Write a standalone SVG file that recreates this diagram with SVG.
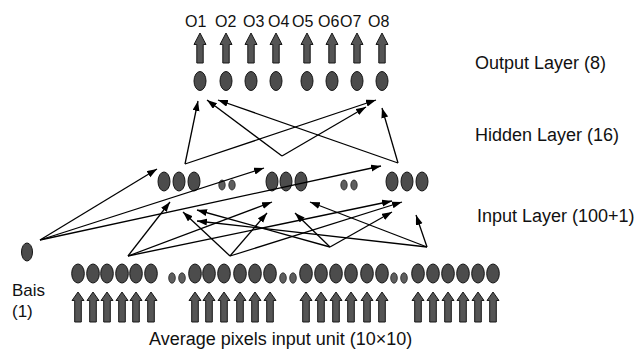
<svg xmlns="http://www.w3.org/2000/svg" width="636" height="349" viewBox="0 0 636 349">
<style>
.n{fill:#4c4c4c;stroke:#151515;stroke-width:1}
.d{fill:#5e5e5e;stroke:#222;stroke-width:0.8}
.ba{fill:#555;stroke:#181818;stroke-width:1}
.c{fill:none;stroke:#000;stroke-width:1.3;marker-end:url(#ah)}
text{font-family:"Liberation Sans",Arial,sans-serif;fill:#111}
.lbl{font-size:18px}
.b{font-size:17px}
.o{font-size:16px}
</style>
<defs>
<marker id="ah" markerUnits="userSpaceOnUse" markerWidth="11" markerHeight="8" refX="10" refY="3.5" orient="auto">
<path d="M0,0 L10,3.5 L0,7 Z" fill="#000"/>
</marker>
<path id="oa" d="M0,33 L6,44.5 L3.2,44.5 L3.2,63 L-3.2,63 L-3.2,44.5 L-6,44.5 Z"/>
<path id="ia" d="M0,292 L6,300.5 L3.3,300.5 L3.3,322 L-3.3,322 L-3.3,300.5 L-6,300.5 Z"/>
</defs>
<rect width="636" height="349" fill="#fff"/>

<g id="output-labels">
<text class="o" x="185" y="27">O1</text>
<text class="o" x="215" y="27">O2</text>
<text class="o" x="243" y="27">O3</text>
<text class="o" x="268" y="27">O4</text>
<text class="o" x="292" y="27">O5</text>
<text class="o" x="318" y="27">O6</text>
<text class="o" x="340" y="27">O7</text>
<text class="o" x="368" y="27">O8</text>
</g>

<g id="output-arrows" class="ba">
<use href="#oa" x="200"/><use href="#oa" x="226"/><use href="#oa" x="251"/><use href="#oa" x="276"/>
<use href="#oa" x="307"/><use href="#oa" x="332"/><use href="#oa" x="357"/><use href="#oa" x="382"/>
</g>

<g id="output-layer">
<g id="o1"><ellipse class="n" cx="200" cy="81" rx="6" ry="9.5"/></g>
<g id="o2"><ellipse class="n" cx="226" cy="81" rx="6" ry="9.5"/></g>
<g id="o3"><ellipse class="n" cx="251" cy="81" rx="6" ry="9.5"/></g>
<g id="o4"><ellipse class="n" cx="276" cy="81" rx="6" ry="9.5"/></g>
<g id="o5"><ellipse class="n" cx="307" cy="81" rx="6" ry="9.5"/></g>
<g id="o6"><ellipse class="n" cx="332" cy="81" rx="6" ry="9.5"/></g>
<g id="o7"><ellipse class="n" cx="357" cy="81" rx="6" ry="9.5"/></g>
<g id="o8"><ellipse class="n" cx="382" cy="81" rx="6" ry="9.5"/></g>
</g>

<g id="hidden-layer">
<g id="h1"><ellipse class="n" cx="164" cy="181.5" rx="6" ry="9.5"/></g>
<g id="h2"><ellipse class="n" cx="179" cy="181.5" rx="6" ry="9.5"/></g>
<g id="h3"><ellipse class="n" cx="194" cy="181.5" rx="6" ry="9.5"/></g>
<g id="hd1"><ellipse class="d" cx="222" cy="185" rx="3.2" ry="5"/><ellipse class="d" cx="232" cy="185" rx="3.2" ry="5"/></g>
<g id="h4"><ellipse class="n" cx="272" cy="181.5" rx="6" ry="9.5"/></g>
<g id="h5"><ellipse class="n" cx="286" cy="181.5" rx="6" ry="9.5"/></g>
<g id="h6"><ellipse class="n" cx="301" cy="181.5" rx="6" ry="9.5"/></g>
<g id="hd2"><ellipse class="d" cx="344" cy="185" rx="3.2" ry="5"/><ellipse class="d" cx="354" cy="185" rx="3.2" ry="5"/></g>
<g id="h7"><ellipse class="n" cx="392" cy="181.5" rx="6" ry="9.5"/></g>
<g id="h8"><ellipse class="n" cx="407" cy="181.5" rx="6" ry="9.5"/></g>
<g id="h9"><ellipse class="n" cx="422" cy="181.5" rx="6" ry="9.5"/></g>
</g>

<g id="bias"><ellipse class="n" cx="27" cy="252" rx="5.5" ry="9"/></g>

<g id="input-layer">
<g id="i1"><ellipse class="n" cx="78" cy="273.5" rx="6.3" ry="9.5"/></g>
<g id="i2"><ellipse class="n" cx="93" cy="273.5" rx="6.3" ry="9.5"/></g>
<g id="i3"><ellipse class="n" cx="107" cy="273.5" rx="6.3" ry="9.5"/></g>
<g id="i4"><ellipse class="n" cx="122" cy="273.5" rx="6.3" ry="9.5"/></g>
<g id="i5"><ellipse class="n" cx="136" cy="273.5" rx="6.3" ry="9.5"/></g>
<g id="i6"><ellipse class="n" cx="151" cy="273.5" rx="6.3" ry="9.5"/></g>
<g id="id1"><ellipse class="d" cx="172" cy="278" rx="3.3" ry="5.2"/><ellipse class="d" cx="182" cy="278" rx="3.3" ry="5.2"/></g>
<g id="i7"><ellipse class="n" cx="195" cy="273.5" rx="6.3" ry="9.5"/></g>
<g id="i8"><ellipse class="n" cx="209" cy="273.5" rx="6.3" ry="9.5"/></g>
<g id="i9"><ellipse class="n" cx="224" cy="273.5" rx="6.3" ry="9.5"/></g>
<g id="i10"><ellipse class="n" cx="240" cy="273.5" rx="6.3" ry="9.5"/></g>
<g id="i11"><ellipse class="n" cx="255" cy="273.5" rx="6.3" ry="9.5"/></g>
<g id="i12"><ellipse class="n" cx="270" cy="273.5" rx="6.3" ry="9.5"/></g>
<g id="id2"><ellipse class="d" cx="283" cy="278" rx="3.3" ry="5.2"/><ellipse class="d" cx="293" cy="278" rx="3.3" ry="5.2"/></g>
<g id="i13"><ellipse class="n" cx="306" cy="273.5" rx="6.3" ry="9.5"/></g>
<g id="i14"><ellipse class="n" cx="321" cy="273.5" rx="6.3" ry="9.5"/></g>
<g id="i15"><ellipse class="n" cx="336" cy="273.5" rx="6.3" ry="9.5"/></g>
<g id="i16"><ellipse class="n" cx="351" cy="273.5" rx="6.3" ry="9.5"/></g>
<g id="i17"><ellipse class="n" cx="367" cy="273.5" rx="6.3" ry="9.5"/></g>
<g id="i18"><ellipse class="n" cx="382" cy="273.5" rx="6.3" ry="9.5"/></g>
<g id="id3"><ellipse class="d" cx="394" cy="278" rx="3.3" ry="5.2"/><ellipse class="d" cx="404" cy="278" rx="3.3" ry="5.2"/></g>
<g id="i19"><ellipse class="n" cx="418" cy="273.5" rx="6.3" ry="9.5"/></g>
<g id="i20"><ellipse class="n" cx="433" cy="273.5" rx="6.3" ry="9.5"/></g>
<g id="i21"><ellipse class="n" cx="448" cy="273.5" rx="6.3" ry="9.5"/></g>
<g id="i22"><ellipse class="n" cx="463" cy="273.5" rx="6.3" ry="9.5"/></g>
<g id="i23"><ellipse class="n" cx="478" cy="273.5" rx="6.3" ry="9.5"/></g>
<g id="i24"><ellipse class="n" cx="493" cy="273.5" rx="6.3" ry="9.5"/></g>
</g>

<g id="input-arrows" class="ba">
<use href="#ia" x="78"/><use href="#ia" x="93"/><use href="#ia" x="107"/><use href="#ia" x="122"/><use href="#ia" x="136"/><use href="#ia" x="151"/>
<use href="#ia" x="195"/><use href="#ia" x="209"/><use href="#ia" x="224"/><use href="#ia" x="240"/><use href="#ia" x="255"/><use href="#ia" x="270"/>
<use href="#ia" x="306"/><use href="#ia" x="321"/><use href="#ia" x="336"/><use href="#ia" x="351"/><use href="#ia" x="367"/><use href="#ia" x="382"/>
<use href="#ia" x="418"/><use href="#ia" x="433"/><use href="#ia" x="448"/><use href="#ia" x="463"/><use href="#ia" x="478"/><use href="#ia" x="493"/>
</g>

<g id="connectors">
<line class="c" x1="185" y1="164" x2="198" y2="101"/>
<line class="c" x1="185" y1="164" x2="376" y2="100"/>
<line class="c" x1="282" y1="156" x2="207" y2="100"/>
<line class="c" x1="282" y1="156" x2="366" y2="107"/>
<line class="c" x1="398" y1="163" x2="382" y2="108"/>
<line class="c" x1="398" y1="163" x2="218" y2="100"/>
<line class="c" x1="40" y1="240" x2="157" y2="169"/>
<line class="c" x1="40" y1="240" x2="264" y2="168"/>
<line class="c" x1="40" y1="240" x2="381" y2="166"/>
<line class="c" x1="128" y1="256" x2="170" y2="202"/>
<line class="c" x1="128" y1="256" x2="272" y2="202"/>
<line class="c" x1="128" y1="256" x2="392" y2="201"/>
<line class="c" x1="230" y1="256" x2="183" y2="212"/>
<line class="c" x1="230" y1="256" x2="267" y2="213"/>
<line class="c" x1="230" y1="256" x2="402" y2="202"/>
<line class="c" x1="330" y1="247" x2="197" y2="210"/>
<line class="c" x1="330" y1="247" x2="295" y2="213"/>
<line class="c" x1="330" y1="247" x2="392" y2="212"/>
<line class="c" x1="427" y1="247" x2="197" y2="221"/>
<line class="c" x1="427" y1="247" x2="310" y2="202"/>
<line class="c" x1="427" y1="247" x2="416" y2="215"/>
</g>

<g id="labels">
<text class="lbl" x="475" y="69">Output Layer (8)</text>
<text class="lbl" x="475" y="141">Hidden Layer (16)</text>
<text class="lbl" x="477" y="222">Input Layer (100+1)</text>
<text class="b" x="12" y="296">Bais</text>
<text class="b" x="12" y="317">(1)</text>
<text class="lbl" x="149" y="345">Average pixels input unit (10×10)</text>
</g>
</svg>
